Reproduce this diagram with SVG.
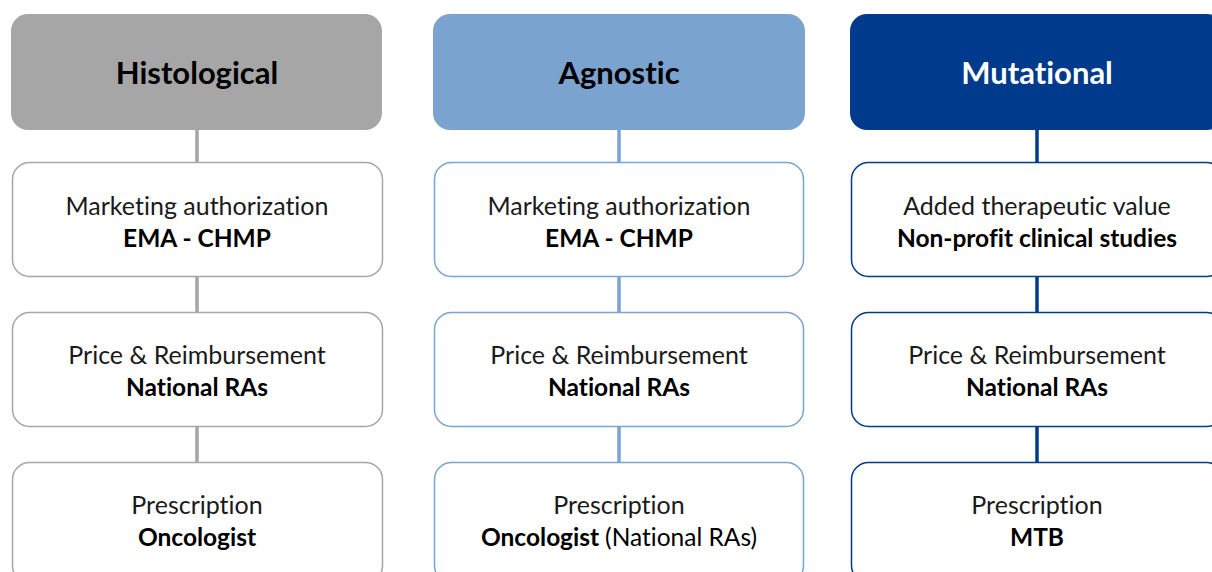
<svg xmlns="http://www.w3.org/2000/svg" width="1212" height="572" viewBox="0 0 1212 572">
  <style>
    text { font-family: Lato, "Open Sans", sans-serif; text-anchor: middle; font-variant-ligatures: none; }
    .hdr { font-weight: 700; font-size: 31px; }
    .t1 { font-size: 25px; fill: #1a1a1a; }
    .t2 { font-size: 24.5px; font-weight: 700; fill: #000; }
    .n { font-weight: 400; }
    .box { fill: #ffffff; stroke-width: 1.5; }
    .gray { stroke: #a6a6a6; }
    .light { stroke: #7ba3cf; }
    .dark { stroke: #003a8c; }
  </style>

  <!-- connectors -->
  <g id="connectors" stroke-width="3.5" fill="none">
    <path d="M197 130V162M197 277V312M197 426V462" stroke="#a6a6a6"/>
    <path d="M619 130V162M619 277V312M619 426V462" stroke="#7ba3cf"/>
    <path d="M1037 130V162M1037 277V312M1037 426V462" stroke="#003a8c"/>
  </g>

  <!-- column 1 -->
  <g id="histological">
    <rect x="11" y="14" width="371" height="116" rx="17" fill="#a6a6a6"/>
    <text class="hdr" x="197" y="84" fill="#000">Histological</text>
  </g>
  <g id="h-marketing">
    <rect class="box gray" x="12.5" y="162.5" width="370" height="114" rx="17"/>
    <text class="t1" x="197" y="214.5">Marketing authorization</text>
    <text class="t2" x="197" y="247">EMA - CHMP</text>
  </g>
  <g id="h-price">
    <rect class="box gray" x="12.5" y="312.5" width="370" height="114" rx="17"/>
    <text class="t1" x="197" y="363.5">Price &amp; Reimbursement</text>
    <text class="t2" x="197" y="396">National RAs</text>
  </g>
  <g id="h-prescription">
    <rect class="box gray" x="12.5" y="462.5" width="370" height="120" rx="17"/>
    <text class="t1" x="197" y="513.5">Prescription</text>
    <text class="t2" x="197" y="546">Oncologist</text>
  </g>

  <!-- column 2 -->
  <g id="agnostic">
    <rect x="433" y="14" width="372" height="116" rx="17" fill="#7ba3cf"/>
    <text class="hdr" x="619" y="84" fill="#000">Agnostic</text>
  </g>
  <g id="a-marketing">
    <rect class="box light" x="434.5" y="162.5" width="369" height="114" rx="17"/>
    <text class="t1" x="619" y="214.5">Marketing authorization</text>
    <text class="t2" x="619" y="247">EMA - CHMP</text>
  </g>
  <g id="a-price">
    <rect class="box light" x="434.5" y="312.5" width="369" height="114" rx="17"/>
    <text class="t1" x="619" y="363.5">Price &amp; Reimbursement</text>
    <text class="t2" x="619" y="396">National RAs</text>
  </g>
  <g id="a-prescription">
    <rect class="box light" x="434.5" y="462.5" width="369" height="120" rx="17"/>
    <text class="t1" x="619" y="513.5">Prescription</text>
    <text class="t2" x="619" y="546">Oncologist <tspan class="n">(National RAs)</tspan></text>
  </g>

  <!-- column 3 -->
  <g id="mutational">
    <rect x="850" y="14" width="374" height="116" rx="17" fill="#003a8c"/>
    <text class="hdr" x="1037" y="84" fill="#ffffff">Mutational</text>
  </g>
  <g id="m-value">
    <rect class="box dark" x="851.5" y="162.5" width="372" height="114" rx="17"/>
    <text class="t1" x="1037" y="214.5">Added therapeutic value</text>
    <text class="t2" x="1037" y="247">Non-profit clinical studies</text>
  </g>
  <g id="m-price">
    <rect class="box dark" x="851.5" y="312.5" width="372" height="114" rx="17"/>
    <text class="t1" x="1037" y="363.5">Price &amp; Reimbursement</text>
    <text class="t2" x="1037" y="396">National RAs</text>
  </g>
  <g id="m-prescription">
    <rect class="box dark" x="851.5" y="462.5" width="372" height="120" rx="17"/>
    <text class="t1" x="1037" y="513.5">Prescription</text>
    <text class="t2" x="1037" y="546">MTB</text>
  </g>
</svg>
